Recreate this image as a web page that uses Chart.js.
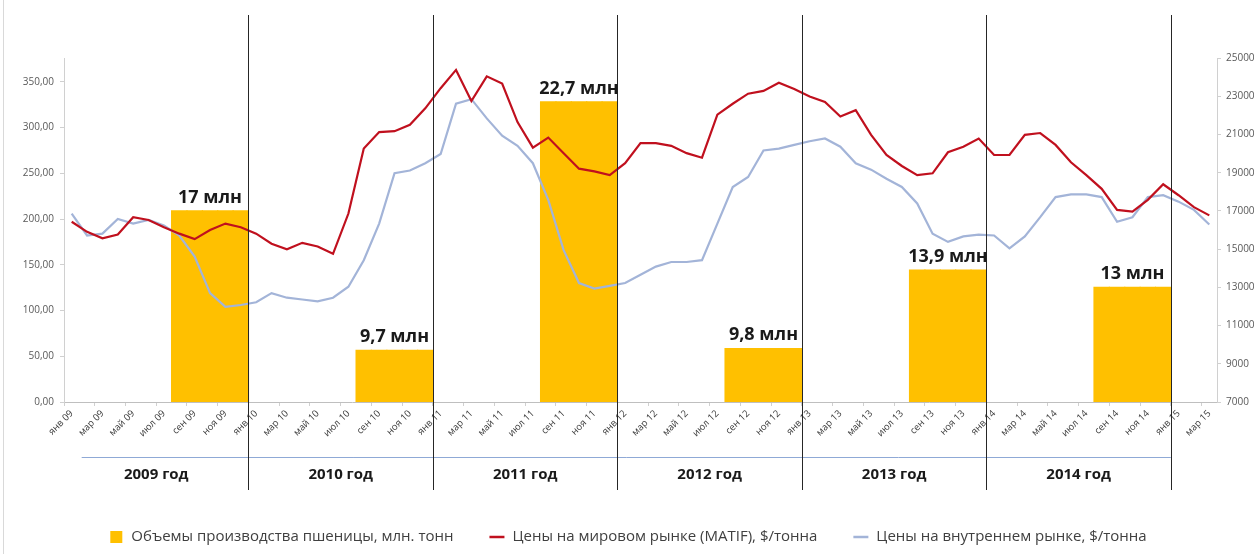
<!DOCTYPE html>
<html lang="ru">
<head>
<meta charset="utf-8">
<title>Пшеница: производство и цены</title>
<script src="https://cdn.jsdelivr.net/npm/chart.js@4.4.1/dist/chart.umd.min.js"></script>
<style>
  html, body { margin: 0; padding: 0; background: #fff; }
  #wrap { width: 1255px; height: 554px; position: relative; }
</style>
</head>
<body>
<div id="wrap"><canvas id="wheatChart"></canvas></div>
<script>
const monthNames = ['янв', 'фев', 'мар', 'апр', 'май', 'июн', 'июл', 'авг', 'сен', 'окт', 'ноя', 'дек'];
const yearSuffixes = ['09', '10', '11', '12', '13', '14', '15'];
const yearLabels = ['2009 год', '2010 год', '2011 год', '2012 год', '2013 год', '2014 год'];

// урожай, тыс. тонн (правая ось) и подписи над столбцами
const productionValues = [17000, 9700, 22700, 9800, 13900, 13000];
const productionLabels = ['17 млн', '9,7 млн', '22,7 млн', '9,8 млн', '13,9 млн', '13 млн'];
const harvestMonths = [7, 8, 9, 10, 11]; // авг - дек

// янв 09 .. мар 15, $/тонна
const matifPrices = [
  197, 186, 179, 183, 202, 199, 191, 184, 178, 188, 195, 191,
  184, 173, 167, 174, 170, 162, 206, 277, 295, 296, 303, 321,
  343, 363, 329, 356, 348, 306, 278, 289, 272, 255, 252, 248,
  261, 283, 283, 280, 272, 267, 314, 326, 337, 340, 349, 342,
  334, 328, 312, 319, 292, 270, 258, 248, 250, 273, 279, 288,
  270, 270, 292, 294, 281, 262, 248, 233, 210, 208, 221, 238,
  226, 213, 204
];
const domesticPrices = [
  206, 182, 184, 200, 195, 199, 193, 182, 159, 119, 104, 106,
  109, 119, 114, 112, 110, 114, 126, 155, 195, 250, 253, 261,
  271, 326, 331, 310, 291, 280, 261, 221, 166, 130, 124, 127,
  130, 139, 148, 153, 153, 155, 195, 235, 246, 275, 277, 281,
  285, 288, 279, 261, 254, 244, 235, 217, 184, 175, 181, 183,
  182, 168, 181, 202, 224, 227, 227, 224, 197, 202, 224, 226,
  219, 210, 194
];

const seriesNames = [
  'Объемы производства пшеницы, млн. тонн',
  'Цены на мировом рынке (MATIF), $/тонна',
  'Цены на внутреннем рынке, $/тонна'
];

const monthLabels = matifPrices.map((_, i) => `${monthNames[i % 12]} ${yearSuffixes[Math.floor(i / 12)]}`);

const productionSeries = monthLabels.map((_, i) => {
  const y = Math.floor(i / 12);
  return harvestMonths.includes(i % 12) && y < productionValues.length ? productionValues[y] : null;
});

const FONT = "'Open Sans', sans-serif";
Chart.defaults.font.family = FONT;

// separators, years, bar captions and legend
const decorPlugin = {
  id: 'decor',
  afterDraw(chart) {
    const { ctx, chartArea: a, scales: { x } } = chart;
    const half = (x.getPixelForValue(1) - x.getPixelForValue(0)) / 2;
    const edge = (i) => x.getPixelForValue(i) - half;

    ctx.save();
    ctx.strokeStyle = '#d9d9d9';
    ctx.lineWidth = 1;
    ctx.beginPath();
    ctx.moveTo(3.5, 0);
    ctx.lineTo(3.5, chart.height);
    ctx.stroke();

    // blue line under month labels
    const bandY = a.bottom + 55;
    ctx.strokeStyle = '#8fa9d6';
    ctx.beginPath();
    ctx.moveTo(x.getPixelForValue(0) + 10, bandY + 0.5);
    ctx.lineTo(edge(12 * yearLabels.length), bandY + 0.5);
    ctx.stroke();

    // year separators
    ctx.strokeStyle = '#262626';
    for (let k = 1; k <= yearLabels.length; k++) {
      const bx = Math.round(edge(12 * k)) + 0.5;
      ctx.beginPath();
      ctx.moveTo(bx, a.top - 43);
      ctx.lineTo(bx, a.bottom + 88);
      ctx.stroke();
    }

    // year captions
    ctx.fillStyle = '#1a1a1a';
    ctx.font = `bold 15px ${FONT}`;
    ctx.textAlign = 'center';
    ctx.textBaseline = 'middle';
    yearLabels.forEach((t, k) => {
      const cx = (edge(12 * k) + edge(12 * k + 12)) / 2;
      ctx.fillText(t, cx, bandY + 18);
    });

    // bar captions
    const meta = chart.getDatasetMeta(0);
    ctx.font = `bold 18px ${FONT}`;
    ctx.textBaseline = 'alphabetic';
    productionLabels.forEach((t, k) => {
      const first = meta.data[12 * k + harvestMonths[0]];
      const last = meta.data[12 * k + harvestMonths[harvestMonths.length - 1]];
      ctx.fillText(t, (first.x + last.x) / 2, first.y - 8);
    });

    // legend
    ctx.font = `15px ${FONT}`;
    ctx.textAlign = 'left';
    ctx.textBaseline = 'middle';
    const items = chart.data.datasets.map(ds => ({
      text: ds.label,
      isLine: ds.type === 'line',
      color: ds.type === 'line' ? ds.borderColor : ds.backgroundColor
    }));
    const iconW = 15, iconGap = 8, itemGap = 36;
    const widths = items.map(it => iconW + iconGap + ctx.measureText(it.text).width);
    const total = widths.reduce((s, w) => s + w, 0) + itemGap * (items.length - 1);
    let lx = (chart.width - total) / 2;
    const ly = chart.height - 17;
    items.forEach((it, i) => {
      if (it.isLine) {
        ctx.strokeStyle = it.color;
        ctx.lineWidth = 2.5;
        ctx.beginPath();
        ctx.moveTo(lx, ly);
        ctx.lineTo(lx + iconW, ly);
        ctx.stroke();
      } else {
        ctx.fillStyle = it.color;
        ctx.fillRect(lx + 2, ly - 6, 12, 12);
      }
      ctx.fillStyle = '#404040';
      ctx.fillText(it.text, lx + iconW + iconGap, ly);
      lx += widths[i] + itemGap;
    });
    ctx.restore();
  }
};

const axisGrey = '#d0d0d0';

new Chart(document.getElementById('wheatChart'), {
  type: 'bar',
  data: {
    labels: monthLabels,
    datasets: [
      {
        type: 'bar',
        label: seriesNames[0],
        data: productionSeries,
        yAxisID: 'y1',
        backgroundColor: '#FFC000',
        borderWidth: 0,
        barPercentage: 1,
        categoryPercentage: 1,
        inflateAmount: 0.6,
        order: 3
      },
      {
        type: 'line',
        label: seriesNames[1],
        data: matifPrices,
        yAxisID: 'y',
        borderColor: '#C0101E',
        borderWidth: 2.2,
        pointRadius: 0,
        tension: 0,
        order: 1
      },
      {
        type: 'line',
        label: seriesNames[2],
        data: domesticPrices,
        yAxisID: 'y',
        borderColor: '#A3B4D8',
        borderWidth: 2.2,
        pointRadius: 0,
        tension: 0,
        order: 2
      }
    ]
  },
  options: {
    responsive: true,
    maintainAspectRatio: false,
    animation: false,
    layout: { padding: { top: 58, bottom: 0, left: 0, right: 0 } },
    plugins: {
      legend: { display: false },
      tooltip: { enabled: false }
    },
    scales: {
      x: {
        offset: true,
        grid: {
          offset: true,
          drawOnChartArea: false,
          tickLength: 4,
          color: (c) => c.index % 2 === 0 ? axisGrey : 'rgba(0,0,0,0)'
        },
        border: { color: '#bfbfbf' },
        ticks: {
          autoSkip: false,
          minRotation: 45,
          maxRotation: 45,
          padding: 2,
          color: '#3a3a3a',
          font: { size: 9.5 },
          callback: (v, i) => (i % 2 === 0 ? monthLabels[i] : '')
        },
        afterFit: (s) => { s.height = 152; }
      },
      y: {
        position: 'left',
        min: 0,
        max: 376,
        grid: { drawOnChartArea: false, tickLength: 4, color: axisGrey },
        border: { color: axisGrey },
        ticks: {
          stepSize: 50,
          includeBounds: false,
          padding: 6,
          color: '#595959',
          font: { size: 10 },
          callback: (v) => v.toFixed(2).replace('.', ',')
        },
        afterFit: (s) => { s.width = 64; }
      },
      y1: {
        position: 'right',
        min: 7000,
        max: 25000,
        grid: { drawOnChartArea: false, tickLength: 4, color: axisGrey },
        border: { color: axisGrey },
        ticks: {
          stepSize: 2000,
          padding: 5,
          color: '#595959',
          font: { size: 10 },
          callback: (v) => String(v)
        },
        afterFit: (s) => { s.width = 38; }
      }
    }
  },
  plugins: [decorPlugin]
});
</script>
</body>
</html>
